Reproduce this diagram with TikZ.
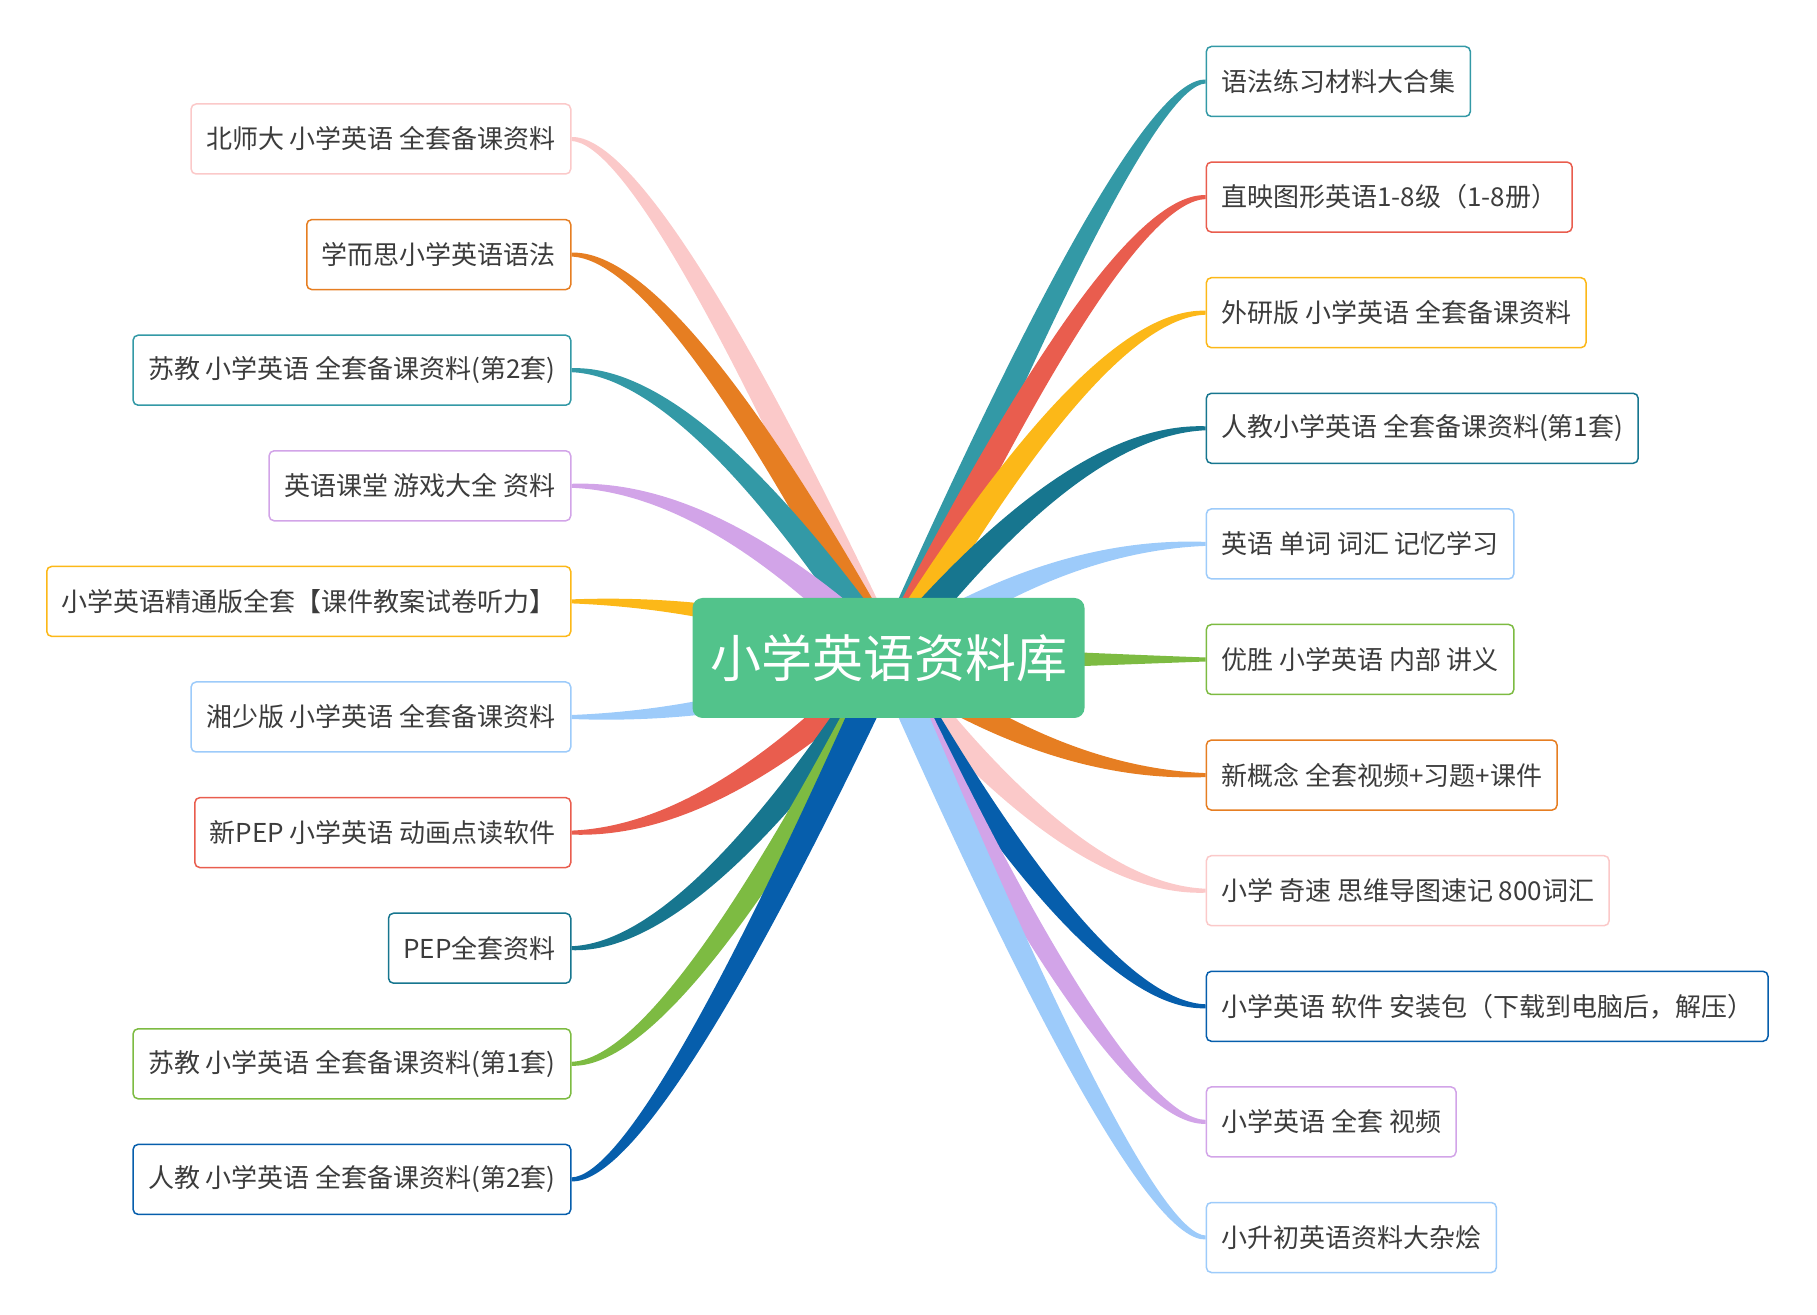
\documentclass[tikz,border=0pt]{standalone}
\usepackage{fontspec}
\setmainfont{Noto Sans CJK SC}
\usetikzlibrary{positioning,calc,backgrounds}

\definecolor{rootgreen}{HTML}{52C38B}
\definecolor{leaftext}{HTML}{3C3C3C}
\definecolor{pinkline}{HTML}{FBC9C9}
\definecolor{orangeline}{HTML}{E67E22}
\definecolor{tealline}{HTML}{3399A6}
\definecolor{purpleline}{HTML}{D2A4E8}
\definecolor{yellowline}{HTML}{FCB818}
\definecolor{skyline}{HTML}{9DCBFA}
\definecolor{redline}{HTML}{E95D4E}
\definecolor{petrolline}{HTML}{17768F}
\definecolor{greenline}{HTML}{7DBB42}
\definecolor{blueline}{HTML}{065EAC}

\begin{document}
\begin{tikzpicture}[x=0.5pt,y=-0.5pt,node distance=22.05pt,
    main/.style={fill=rootgreen,rounded corners=5pt,minimum width=196pt,
        minimum height=60pt,text=white,font=\fontsize{25.5}{30}\selectfont},
    leaf/.style={draw=#1,fill=white,rounded corners=2.5pt,line width=0.75pt,
        minimum height=35pt,inner xsep=7.5pt,inner ysep=2pt,text=leaftext,
        font=\fontsize{13}{15}\selectfont},
    leftbelow/.style={below=of #1.south east,anchor=north east},
    rightbelow/.style={below=of #1.south west,anchor=north west}]

  \useasboundingbox (0,0) rectangle (1817,1315);

  \node[main] (root) at (888.5,658) {小学英语资料库};

  \node[leaf=pinkline,anchor=east] (Beishida) at (571.5,139) {北师大 小学英语 全套备课资料};
  \node[leaf=orangeline,leftbelow=Beishida] (Xueersi) {学而思小学英语语法};
  \node[leaf=tealline,leftbelow=Xueersi] (Sujiao Two) {苏教 小学英语 全套备课资料(第2套)};
  \node[leaf=purpleline,leftbelow=Sujiao Two] (Games) {英语课堂 游戏大全 资料};
  \node[leaf=yellowline,leftbelow=Games] (Jingtong) {小学英语精通版全套【课件教案试卷听力】};
  \node[leaf=skyline,leftbelow=Jingtong] (Xiangshao) {湘少版 小学英语 全套备课资料};
  \node[leaf=redline,leftbelow=Xiangshao] (New PEP) {新PEP 小学英语 动画点读软件};
  \node[leaf=petrolline,leftbelow=New PEP] (PEP) {PEP全套资料};
  \node[leaf=greenline,leftbelow=PEP] (Sujiao One) {苏教 小学英语 全套备课资料(第1套)};
  \node[leaf=blueline,leftbelow=Sujiao One] (Renjiao Two) {人教 小学英语 全套备课资料(第2套)};

  \node[leaf=tealline,anchor=west] (Grammar) at (1205.6,81.5) {语法练习材料大合集};
  \node[leaf=redline,rightbelow=Grammar] (Zhiying) {直映图形英语1-8级（1-8册）};
  \node[leaf=yellowline,rightbelow=Zhiying] (Waiyan) {外研版 小学英语 全套备课资料};
  \node[leaf=petrolline,rightbelow=Waiyan] (Renjiao One) {人教小学英语 全套备课资料(第1套)};
  \node[leaf=skyline,rightbelow=Renjiao One] (Words) {英语 单词 词汇 记忆学习};
  \node[leaf=greenline,rightbelow=Words] (Yousheng) {优胜 小学英语 内部 讲义};
  \node[leaf=orangeline,rightbelow=Yousheng] (New Concept) {新概念 全套视频+习题+课件};
  \node[leaf=pinkline,rightbelow=New Concept] (Qisu) {小学 奇速 思维导图速记 800词汇};
  \node[leaf=blueline,rightbelow=Qisu] (Software) {小学英语 软件 安装包（下载到电脑后，解压）};
  \node[leaf=purpleline,rightbelow=Software] (Videos) {小学英语 全套 视频};
  \node[leaf=skyline,rightbelow=Videos] (Xiaoshengchu) {小升初英语资料大杂烩};

  \begin{scope}[on background layer]
  \foreach \a/\c in {Beishida.east/pinkline,Xueersi.east/orangeline,Sujiao Two.east/tealline,
      Games.east/purpleline,Jingtong.east/yellowline,Xiangshao.east/skyline,New PEP.east/redline,
      PEP.east/petrolline,Sujiao One.east/greenline,Renjiao Two.east/blueline,
      Grammar.west/tealline,Zhiying.west/redline,Waiyan.west/yellowline,Renjiao One.west/petrolline,
      Words.west/skyline,Yousheng.west/greenline,New Concept.west/orangeline,Qisu.west/pinkline,
      Software.west/blueline,Videos.west/purpleline,Xiaoshengchu.west/skyline}
    \fill[\c] let \p1=(root.center), \p2=(\a),
        \n1={0.55-0.3*abs(\y2-\y1)/260},
        \p3=({\x2+(\x1-\x2)*\n1},\y2),
        \n2={atan2(\y3-\y1,\x3-\x1)}, \n3={atan2(\y2-\y1,\x2-\x1)}, \n4={atan2(\y2-\y3,\x2-\x3)},
        \p4=({\x1-7.5pt*sin(\n2)},{\y1+7.5pt*cos(\n2)}), \p5=({\x1+7.5pt*sin(\n2)},{\y1-7.5pt*cos(\n2)}),
        \p6=({\x3-4.25pt*sin(\n3)},{\y3+4.25pt*cos(\n3)}), \p7=({\x3+4.25pt*sin(\n3)},{\y3-4.25pt*cos(\n3)}),
        \p8=({\x2-1pt*sin(\n4)},{\y2+1pt*cos(\n4)}), \p9=({\x2+1pt*sin(\n4)},{\y2-1pt*cos(\n4)}) in
      (\p4) .. controls ($(\p4)!2/3!(\p6)$) and ($(\p8)!2/3!(\p6)$) .. (\p8) -- (\p9)
        .. controls ($(\p9)!2/3!(\p7)$) and ($(\p5)!2/3!(\p7)$) .. (\p5) -- cycle;
  \end{scope}
\end{tikzpicture}
\end{document}
